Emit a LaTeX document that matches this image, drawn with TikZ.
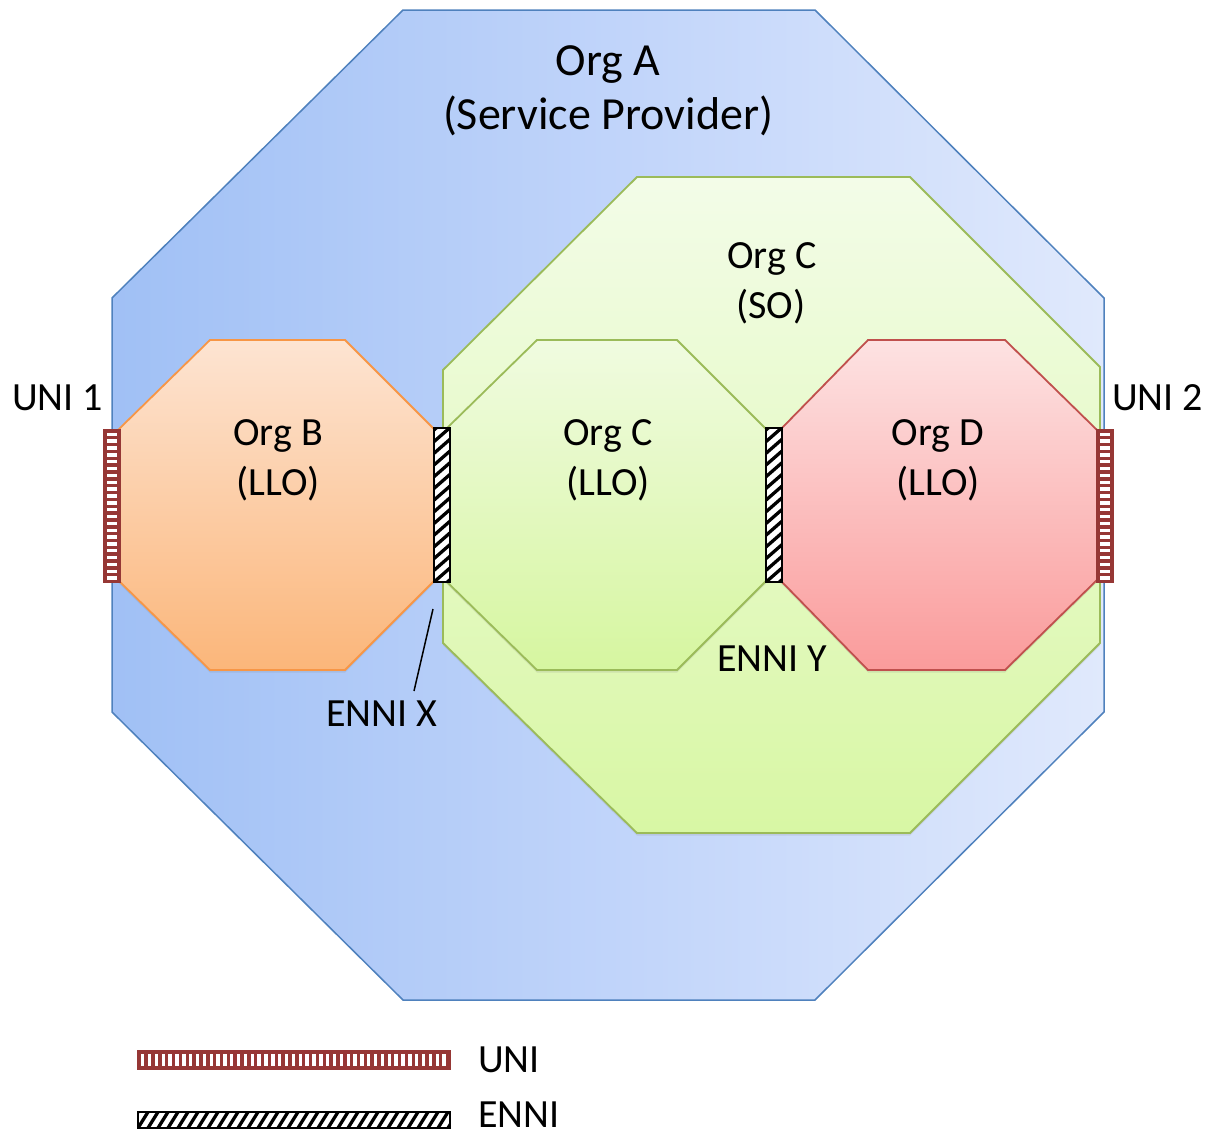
\documentclass[tikz,border=0pt]{standalone}
\usepackage{fontspec}
\setmainfont{Carlito}
\usetikzlibrary{shadows}
\newcommand\myUniV[2]{%
  \fill[unired] (#1,#2) rectangle ++(16,152);
  \foreach \k in {0,...,21}{\fill[white] ({#1+3},{#2+2.6+\k*6.85}) rectangle ++(10,3.4);}
  \draw[unired, line width=1.2pt] (#1,#2) rectangle ++(16,152);}
\newcommand\myUniH[2]{%
  \fill[unired] (#1,#2) rectangle ++(312,18);
  \foreach \k in {0,...,44}{\fill[white] ({#1+3+\k*6.85},{#2+3}) rectangle ++(3.4,12);}
  \draw[unired, line width=1.2pt] (#1,#2) rectangle ++(312,18);}
\newcommand\myEnniV[2]{%
  \begin{scope}
  \clip (#1,#2) rectangle ++(16,154);
  \fill[white] (#1,#2) rectangle ++(16,154);
  \foreach \k in {-2,...,14}{\draw[line width=3.3pt] (#1,{#2+154-\k*11.7}) -- ++(16,-14);}
  \end{scope}
  \draw[line width=1.5pt] (#1,#2) rectangle ++(16,154);}
\newcommand\myEnniH[2]{%
  \begin{scope}
  \clip (#1,#2) rectangle ++(312,16);
  \fill[white] (#1,#2) rectangle ++(312,16);
  \foreach \k in {-2,...,32}{\draw[line width=3.3pt] ({#1+\k*10},{#2+16}) -- ++(10,-16);}
  \end{scope}
  \draw[line width=1.5pt] (#1,#2) rectangle ++(312,16);}
\begin{document}
\begin{tikzpicture}[x=1pt,y=-1pt,
  lbl/.style={inner sep=0pt, font=\fontsize{40}{48}\selectfont},
  biglbl/.style={inner sep=0pt, font=\fontsize{46}{55}\selectfont},
  oct/.style={line width=1.8pt, drop shadow={opacity=0.18, shadow xshift=0pt, shadow yshift=-2.5pt}}
]
\definecolor{unired}{RGB}{150,55,53}
\definecolor{blueA}{RGB}{79,129,189}
\definecolor{greenA}{RGB}{155,187,89}
\definecolor{orangeA}{RGB}{247,150,70}
\definecolor{redA}{RGB}{192,80,77}
\useasboundingbox (0,0) rectangle (1211,1135);
% Org A
\shade[left color={rgb,255:red,160;green,192;blue,245}, right color={rgb,255:red,224;green,233;blue,252}, middle color={rgb,255:red,192;green,212;blue,250}, draw=blueA, line width=1.5pt]
  (403,10) -- (815,10) -- (1104,298) -- (1104,712) -- (815,1000) -- (403,1000) -- (112,712) -- (112,298) -- cycle;
% Org C (SO)
\shade[oct, top color={rgb,255:red,243;green,252;blue,232}, bottom color={rgb,255:red,216;green,247;blue,164}, draw=greenA]
  (637,177) -- (910,177) -- (1100,367) -- (1100,643) -- (910,833) -- (637,833) -- (443,643) -- (443,370) -- cycle;
% Org B
\shade[oct, top color={rgb,255:red,253;green,228;blue,210}, bottom color={rgb,255:red,251;green,182;blue,122}, draw=orangeA]
  (210,340) -- (345,340) -- (435,430) -- (435,580) -- (345,670) -- (210,670) -- (118,580) -- (118,430) -- cycle;
% Org C (LLO)
\shade[oct, top color={rgb,255:red,240;green,251;blue,224}, bottom color={rgb,255:red,214;green,246;blue,160}, draw=greenA]
  (537,340) -- (677,340) -- (767,430) -- (767,580) -- (677,670) -- (537,670) -- (445,580) -- (445,430) -- cycle;
% Org D
\shade[oct, top color={rgb,255:red,253;green,226;blue,226}, bottom color={rgb,255:red,250;green,155;blue,155}, draw=redA]
  (868,340) -- (1005,340) -- (1097,430) -- (1097,580) -- (1005,670) -- (868,670) -- (780,580) -- (780,430) -- cycle;
% bars
\myUniV{104}{430}
\myUniV{1097}{430}
\myEnniV{434}{428}
\myEnniV{766}{428}
% labels
\node[biglbl, anchor=base] (orgA) at (608,75) {Org A};
\node[biglbl, anchor=base] (sp) at (608,129) {(Service Provider)};
\node[lbl, anchor=base] (orgCso) at (772,268) {Org C};
\node[lbl, anchor=base] (so) at (771,318) {(SO)};
\node[lbl, anchor=base] (orgB) at (278,445) {Org B};
\node[lbl, anchor=base] (llob) at (278,495) {(LLO)};
\node[lbl, anchor=base] (orgC) at (608,445) {Org C};
\node[lbl, anchor=base] (lloc) at (608,495) {(LLO)};
\node[lbl, anchor=base] (orgD) at (938,445) {Org D};
\node[lbl, anchor=base] (llod) at (938,495) {(LLO)};
\node[lbl, anchor=base west] (uni1l) at (12,410) {UNI 1};
\node[lbl, anchor=base west] (uni2l) at (1112,410) {UNI 2};
\node[lbl, anchor=base west] (ennixl) at (326,726) {ENNI X};
\node[lbl, anchor=base west] (enniyl) at (717,671) {ENNI Y};
\coordinate (ptrA) at (433,609);
\coordinate (ptrB) at (414,691);
\draw[line width=1.5pt] (ptrA) -- (ptrB);
% legend
\myUniH{138}{1051}
\myEnniH{138}{1112}
\node[lbl, anchor=base west] (legUl) at (478,1072) {UNI};
\node[lbl, anchor=base west] (legEl) at (478,1127) {ENNI};
\end{tikzpicture}
\end{document}
